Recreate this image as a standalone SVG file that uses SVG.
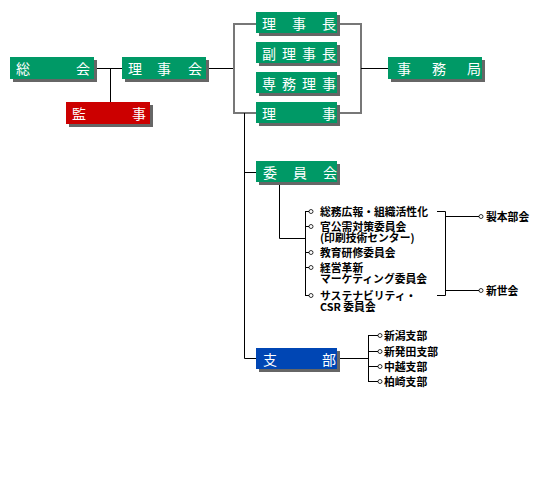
<svg xmlns="http://www.w3.org/2000/svg" width="540" height="500" viewBox="0 0 540 500">
<style>
.sh{fill:#666666}
.g{fill:#009966}
.r{fill:#cc0000}
.b{fill:#0046b4}
.bt{font-family:"Noto Sans CJK JP","Noto Sans",sans-serif;font-size:14px;fill:#ffffff}
.st{font-family:"Noto Sans CJK JP","Noto Sans",sans-serif;font-size:10.8px;font-weight:bold;fill:#000000}
.k{stroke:#000000;stroke-width:1;fill:none}
.gr{stroke:#777777;stroke-width:2;fill:none}
.c{fill:#ffffff;stroke:#000000;stroke-width:0.8}
</style>
<rect width="540" height="500" fill="#ffffff"/>
<g id="connectors">
<path class="k" d="M94 68.5H122M110.5 68.5V102M206 68.5H234"/>
<path class="gr" d="M256 24H234V113H256M337 24H361V113H337"/>
<path class="k" d="M361 68.5H388"/>
<path class="k" d="M244.5 113V358.5H256M244.5 172.5H256"/>
<path class="k" d="M279.5 183V238.5H305"/>
<path class="k" d="M305.5 211V295.5M305 211.5H309M305 226.5H309M305 252.5H309M305 267.5H309M305 295.5H309"/>
<path class="k" d="M437 211.5H445.5V295.5H437M445 216.5H479M445 290.5H479"/>
<path class="k" d="M340 358.5H368.5M368.5 335V381.5M368 335.5H378M368 351.5H378M368 366.5H378M368 381.5H378"/>
<circle class="c" cx="311" cy="211.5" r="2"/>
<circle class="c" cx="311" cy="226.5" r="2"/>
<circle class="c" cx="311" cy="252.5" r="2"/>
<circle class="c" cx="311" cy="267.5" r="2"/>
<circle class="c" cx="311" cy="295.5" r="2"/>
<circle class="c" cx="481" cy="216.5" r="2"/>
<circle class="c" cx="481" cy="290.5" r="2"/>
<circle class="c" cx="380" cy="335.5" r="2"/>
<circle class="c" cx="380" cy="351.5" r="2"/>
<circle class="c" cx="380" cy="366.5" r="2"/>
<circle class="c" cx="380" cy="381.5" r="2"/>
</g>
<g id="soukai"><rect class="sh" x="13" y="60" width="84" height="22"/><rect class="g" x="10" y="57" width="84" height="22"/><text class="bt" x="16 76" y="74">総会</text></g>
<g id="rijikai"><rect class="sh" x="125" y="60" width="84" height="22"/><rect class="g" x="122" y="57" width="84" height="22"/><text class="bt" x="128 157 188" y="74">理事会</text></g>
<g id="kanji"><rect class="sh" x="69" y="105" width="84" height="22"/><rect class="r" x="66" y="102" width="84" height="22"/><text class="bt" x="72 132" y="119">監事</text></g>
<g id="rijicho"><rect class="sh" x="259" y="15" width="81" height="21"/><rect class="g" x="256" y="12" width="81" height="21"/><text class="bt" x="262 292 322" y="29">理事長</text></g>
<g id="fukurijicho"><rect class="sh" x="259" y="45" width="81" height="21"/><rect class="g" x="256" y="42" width="81" height="21"/><text class="bt" x="262 282 302 322" y="59">副理事長</text></g>
<g id="senmuriji"><rect class="sh" x="259" y="75" width="81" height="21"/><rect class="g" x="256" y="72" width="81" height="21"/><text class="bt" x="262 282 302 322" y="89">専務理事</text></g>
<g id="riji"><rect class="sh" x="259" y="105" width="81" height="21"/><rect class="g" x="256" y="102" width="81" height="21"/><text class="bt" x="262 322" y="119">理事</text></g>
<g id="jimukyoku"><rect class="sh" x="391" y="60" width="94" height="22"/><rect class="g" x="388" y="57" width="94" height="22"/><text class="bt" x="397 432 467" y="74">事務局</text></g>
<g id="iinkai"><rect class="sh" x="259" y="164" width="81" height="21"/><rect class="g" x="256" y="161" width="81" height="21"/><text class="bt" x="263 293 323" y="178">委員会</text></g>
<g id="shibu"><rect class="sh" x="259" y="351" width="81" height="21"/><rect class="b" x="256" y="348" width="81" height="21"/><text class="bt" x="263 322" y="365">支部</text></g>
<g id="committees">
<text class="st" x="320" y="215.5">総務広報・組織活性化</text>
<text class="st" x="320" y="230.5">官公需対策委員会<tspan x="320" dy="11.8">(印刷技術センター)</tspan></text>
<text class="st" x="320" y="256.5">教育研修委員会</text>
<text class="st" x="320" y="271.5">経営革新<tspan x="320" dy="11.8">マーケティング委員会</tspan></text>
<text class="st" x="320" y="299.5">サステナビリティ・<tspan x="320" dy="11.8">CSR 委員会</tspan></text>
</g>
<g id="groups">
<text class="st" x="486" y="220.5">製本部会</text>
<text class="st" x="486" y="294.5">新世会</text>
</g>
<g id="branches">
<text class="st" x="384" y="339.5">新潟支部</text>
<text class="st" x="384" y="355.5">新発田支部</text>
<text class="st" x="384" y="370.5">中越支部</text>
<text class="st" x="384" y="385.5">柏崎支部</text>
</g>
</svg>
